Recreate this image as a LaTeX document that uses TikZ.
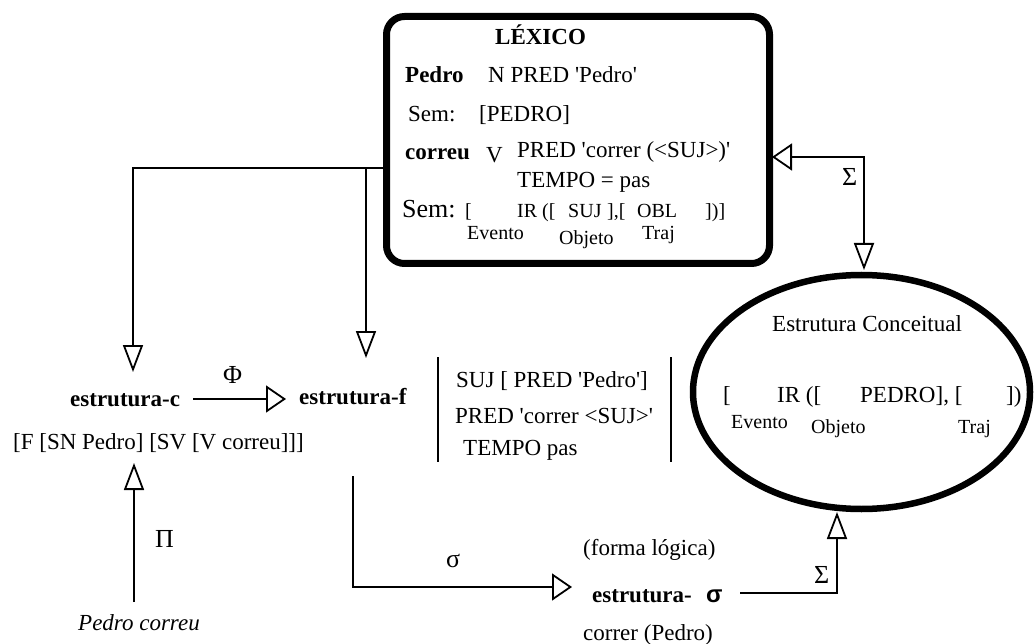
\documentclass[tikz,border=0pt]{standalone}
\usepackage{fontspec}
\setmainfont{Liberation Serif}
\newfontfamily\sigmafont{Liberation Sans}
\usetikzlibrary{arrows.meta,shapes.geometric}
\newcommand{\sq}{\textquotesingle}

\begin{document}
\begin{tikzpicture}[x=1pt,y=-1pt,
  txt/.style={inner sep=0pt, anchor=base west, font=\fontsize{23}{27}\selectfont},
  sml/.style={inner sep=0pt, anchor=base west, font=\fontsize{20}{24}\selectfont},
  bld/.style={inner sep=0pt, anchor=base west, font=\fontsize{23}{27}\selectfont\bfseries},
  big/.style={inner sep=0pt, anchor=base west, font=\fontsize{26}{30}\selectfont},
  grk/.style={inner sep=0pt, anchor=base west, font=\fontsize{26}{30}\selectfont},
  conn/.style={line width=1.8pt},
  hopen/.style={-{Triangle[open,length=20pt,width=27pt]}},
  vopen/.style={-{Triangle[open,length=27pt,width=20pt]}},
  thickline/.style={draw, line width=7pt, inner sep=0pt}
]
\useasboundingbox (0,0) rectangle (1036,644);

% connector end points
\coordinate (split) at (366,168);
\coordinate (cTip) at (133,372);
\coordinate (fTip) at (366,358);
\coordinate (phiA) at (193,399);
\coordinate (phiB) at (286,399);
\coordinate (piA) at (134,602);
\coordinate (piB) at (134,463);
\coordinate (sigA) at (353,476);
\coordinate (sigB) at (572,587);
\coordinate (lfA) at (740,593);
\coordinate (lfB) at (837,512);
\coordinate (scTop) at (864,270);
\coordinate (scBox) at (772,157);

% lexicon to the c- and f-structures
\draw[conn] (383,168) -- (split);
\draw[conn, vopen] (split) -| (cTip);
\draw[conn, vopen] (split) -- (fTip);

% lexicon box
\node[thickline, rounded corners=18pt, minimum width=383pt, minimum height=247pt] (lexico) at (578,140) {};
\node[bld] (lexT) at (495,45) {LÉXICO};
\node[bld] (pedro) at (405,83) {Pedro};
\node[txt] (pedroN) at (488,83) {N PRED \sq Pedro\sq};
\node[txt] (sem1) at (408,122) {Sem:};
\node[txt] (sem1v) at (479,122) {[PEDRO]};
\node[bld] (correu) at (405,160) {correu};
\node[txt] (correuV) at (486,163) {V};
\node[txt] (predC) at (517,158) {PRED \sq correr (<SUJ>)\sq};
\node[txt] (tempoC) at (517,188) {TEMPO = pas};
\node[big] (sem2) at (402,218) {Sem:};
\node[sml] (s2a) at (465,218) {[};
\node[sml] (s2b) at (517,218) {IR ([};
\node[sml] (s2c) at (568,218) {SUJ};
\node[sml] (s2d) at (607,218) {],[};
\node[sml] (s2e) at (637,218) {OBL};
\node[sml] (s2f) at (705,218) {])]};
\node[sml] (evL) at (467,240) {Evento};
\node[sml] (obL) at (559,245) {Objeto};
\node[sml] (trL) at (642,240) {Traj};

% conceptual structure
\node[draw, ellipse, line width=6.5pt, inner sep=0pt, minimum width=337pt, minimum height=234pt] (conc) at (861.5,392) {};
\node[txt] (concT) at (772,331) {Estrutura Conceitual};
\node[txt] (ce1) at (723,402) {[};
\node[txt] (ce2) at (777,402) {IR ([};
\node[txt] (ce3) at (860,402) {PEDRO], [};
\node[txt] (ce4) at (1006,402) {])};
\node[sml] (evE) at (731,428) {Evento};
\node[sml] (obE) at (811,433) {Objeto};
\node[sml] (trE) at (958,433) {Traj};

% lexicon <-> conceptual structure
\draw[conn, {Triangle[open,length=27pt,width=20pt]}-{Triangle[open,length=20pt,width=27pt]}] (scTop) |- (scBox);
\node[grk] (sigU) at (842,186) {Σ};

% c-structure
\node[bld] (cstr) at (70,406) {estrutura-c};
\node[txt] (ctree) at (13,449) {[F [SN Pedro] [SV [V correu]]]};
\draw[conn, hopen] (phiA) -- (phiB);
\node[grk] (phi) at (223,383) {Φ};
\draw[conn, vopen] (piA) -- (piB);
\node[grk] (pi) at (155,547) {Π};
\node[txt, font=\fontsize{23}{27}\selectfont\itshape] (sent) at (78,630) {Pedro correu};

% f-structure
\node[bld] (fstr) at (299,404) {estrutura-f};
\draw[conn] (438,357) -- (438,462);
\draw[conn] (671,357) -- (671,462);
\node[txt] (f1) at (456,387) {SUJ [ PRED \sq Pedro\sq]};
\node[txt] (f2) at (455,423) {PRED \sq correr <SUJ>\sq};
\node[txt] (f3) at (463,455) {TEMPO pas};

% sigma structure
\draw[conn, hopen] (sigA) |- (sigB);
\node[grk] (sigL) at (446,567) {σ};
\node[txt] (forma) at (583,555) {(forma lógica)};
\node[bld] (sstr) at (592,602) {estrutura-};
\node[inner sep=0pt, anchor=base west, font=\fontsize{24}{28}\selectfont\sigmafont\bfseries] (sbold) at (706,602) {σ};
\node[txt] (lf) at (583,640) {correr (Pedro)};
\draw[conn, vopen] (lfA) -| (lfB);
\node[grk] (sigD) at (814,583) {Σ};
\end{tikzpicture}
\end{document}
